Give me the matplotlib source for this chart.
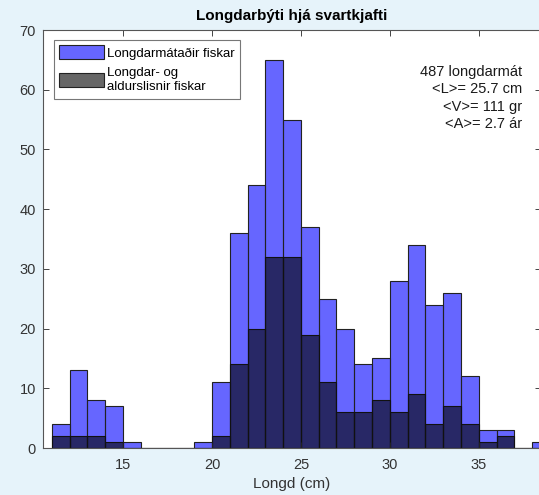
import matplotlib.pyplot as plt
from matplotlib.patches import Patch

# lengths (cm) - left edge of each 1 cm bin
bin_left = list(range(11, 39))
# all length-measured fish
n_length = [4, 13, 8, 7, 1, 0, 0, 0, 1, 11, 36, 44, 65, 55, 37, 25, 20,
            14, 15, 28, 34, 24, 26, 12, 3, 3, 0, 1]
# length- and age-measured fish
n_aged = [2, 2, 2, 1, 0, 0, 0, 0, 0, 2, 14, 20, 32, 32, 19, 11, 6,
          6, 8, 6, 9, 4, 7, 4, 1, 2, 0, 0]

stats_text = "487 longdarmát\n<L>= 25.7 cm\n<V>= 111 gr\n<A>= 2.7 ár"

plt.rcParams['font.family'] = ['Liberation Sans', 'DejaVu Sans']
bg = '#E6F3FA'
axcol = '#262626'

fig = plt.figure(figsize=(5.39, 4.95), dpi=100, facecolor=bg)
ax = fig.add_axes([43 / 539, 47 / 495, 498 / 539, 418 / 495])
ax.set_facecolor('white')

ax.bar(bin_left, n_length, width=1, align='edge', color=(0, 0, 1, 0.6),
       edgecolor='#222222', linewidth=0.8)
ax.bar(bin_left, n_aged, width=1, align='edge', color=(0, 0, 0, 0.6),
       edgecolor='#111111', linewidth=0.8)

ax.set_xlim(10.5, 38.5)
ax.set_ylim(0, 70)
ax.set_xticks([15, 20, 25, 30, 35])
ax.set_yticks(range(0, 71, 10))
ax.tick_params(direction='in', top=True, right=True, labelsize=10.5,
               colors=axcol, length=4, width=0.6)
ax.tick_params(axis='x', labelcolor='#333333', pad=7)
ax.tick_params(axis='y', labelcolor='#333333', pad=5)
for s in ax.spines.values():
    s.set_color('#555555')
    s.set_linewidth(0.8)

ax.set_xlabel('Longd (cm)', fontsize=11, color='#333333', labelpad=4)
ax.set_title('Longdarbýti hjá svartkjafti', fontsize=11, fontweight='bold',
             color='black', pad=7)

ax.text(0.962, 0.916, stats_text, transform=ax.transAxes, ha='right', va='top',
        fontsize=10.5, color='#1a1a1a', linespacing=1.3)

handles = [Patch(facecolor=(0, 0, 1, 0.6), edgecolor='#222222', linewidth=0.8),
           Patch(facecolor=(0, 0, 0, 0.6), edgecolor='#222222', linewidth=0.8)]
leg = ax.legend(handles, ['Longdarmátaðir fiskar', 'Longdar- og\naldurslisnir fiskar'],
                loc='upper left', bbox_to_anchor=(0.022, 0.976), fontsize=9.5,
                handlelength=3.4, handleheight=1.2, handletextpad=0.2,
                borderpad=0.4, labelspacing=0.55, borderaxespad=0,
                fancybox=False, framealpha=1, edgecolor='#777777')
leg.get_frame().set_linewidth(0.8)
for t in leg.get_texts():
    t.set_linespacing(1.3)

fig.savefig('out.png', dpi=100, facecolor=bg)
